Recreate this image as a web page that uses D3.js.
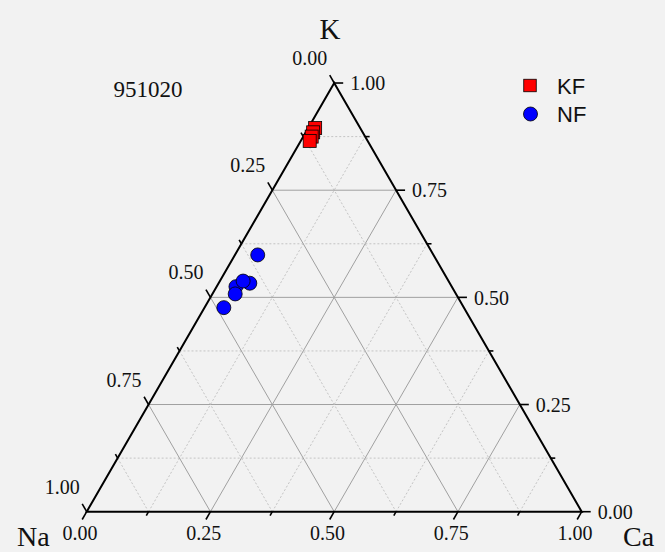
<!DOCTYPE html>
<html><head><meta charset="utf-8">
<script src="https://cdn.jsdelivr.net/npm/d3@7"></script>
<style>html,body{margin:0;padding:0;background:#f2f2f2;}svg{display:block;}</style>
</head><body>
<svg id="chart" width="665" height="552"></svg>
<script>
// ---- data ----
const axisNames = ["Na", "Ca", "K"];
const chartTitle = "951020";
const seriesNames = ["KF", "NF"];
const tickValues = [0, 0.25, 0.5, 0.75, 1];
const tickLabels = ["0.00", "0.25", "0.50", "0.75", "1.00"];
const gridValues = [0.125, 0.25, 0.375, 0.5, 0.625, 0.75, 0.875];
// KF (squares): K and Ca fractions (Na = 1 - K - Ca)
const kfK  = [0.895, 0.885, 0.875, 0.865];
const kfCa = [0.014, 0.015, 0.017, 0.018];
// NF (circles)
const nfK  = [0.599, 0.533, 0.525, 0.538, 0.508, 0.476];
const nfCa = [0.046, 0.063, 0.039, 0.047, 0.046, 0.039];

// ---- layout ----
const svg = d3.select("#chart");
svg.append("rect").attr("width",665).attr("height",552).attr("fill","#f2f2f2");
const xL = 86.7, xR = 581.7, yB = 511.7, side = xR - xL, yT = yB - side*Math.sqrt(3)/2;
const xScale = d3.scaleLinear().domain([0,1]).range([xL, xR]);
const yScale = d3.scaleLinear().domain([0,1]).range([yB, yT]);
// position from (Ca, K)
const px = (ca, k) => xScale(ca + k/2);
const py = (k) => yScale(k);
const serif = "'Liberation Serif','Times New Roman',serif";
const sans = "'Liberation Sans',Arial,sans-serif";

// ---- grid ----
const g = svg.append("g");
gridValues.forEach(v => {
  const major = Math.abs(v*4 - Math.round(v*4)) < 1e-9;
  const st = major ? {c:"#a0a0a0", d:null, w:1} : {c:"#c4c4c4", d:"2,2", w:1};
  const lines = [
    [[0, v], [1 - v, v]],               // K = v
    [[v, 0], [v, 1 - v]],               // Ca = v
    [[0, 1 - v], [1 - v, 0]]            // Na = v
  ];
  lines.forEach(([a, b]) => {
    g.append("line")
      .attr("x1", px(a[0], a[1])).attr("y1", py(a[1]))
      .attr("x2", px(b[0], b[1])).attr("y2", py(b[1]))
      .attr("stroke", st.c).attr("stroke-width", st.w)
      .attr("stroke-dasharray", st.d);
  });
});

// ---- ticks ----
const tickG = svg.append("g").attr("stroke","#000").attr("stroke-width",1.6);
const allTicks = [0].concat(gridValues).concat([1]);
const s3 = Math.sqrt(3)/2;
allTicks.forEach(v => {
  const major = Math.abs(v*4 - Math.round(v*4)) < 1e-9;
  const L = major ? 9 : 4.5;
  let x = px(0, 1 - v), y = py(1 - v);
  tickG.append("line").attr("x1",x).attr("y1",y).attr("x2",x - 0.5*L).attr("y2",y - s3*L);
  x = px(1 - v, v); y = py(v);
  tickG.append("line").attr("x1",x).attr("y1",y).attr("x2",x + L).attr("y2",y);
  x = px(v, 0); y = py(0);
  tickG.append("line").attr("x1",x).attr("y1",y).attr("x2",x - 0.5*L).attr("y2",y + s3*L);
});

// ---- triangle ----
svg.append("path")
  .attr("d", d3.line()([[px(0,0),py(0)],[px(1,0),py(0)],[px(0,1),py(1)]]) + "Z")
  .attr("fill","none").attr("stroke","#000").attr("stroke-width",2)
  .attr("stroke-linejoin","miter");

// ---- tick labels ----
const lab = svg.append("g").attr("font-family", serif).attr("font-size", 20).attr("fill","#111");
tickValues.forEach((v, i) => {
  lab.append("text").attr("x", px(0, 1 - v) - 24.5).attr("y", py(1 - v) - 24.7 + 6.8)
    .attr("text-anchor","middle").text(tickLabels[i]);
  lab.append("text").attr("x", px(1 - v, v) + 16).attr("y", py(v) + 0.5 + 6.8)
    .attr("text-anchor","start").text(tickLabels[i]);
  lab.append("text").attr("x", px(v, 0) - 6.8).attr("y", py(0) + 21.7 + 6.8)
    .attr("text-anchor","middle").text(tickLabels[i]);
});

// ---- axis titles ----
const tt = svg.append("g").attr("font-family", serif).attr("fill","#111");
tt.append("text").attr("x", 330).attr("y", 38.5).attr("font-size", 29).attr("text-anchor","middle").text(axisNames[2]);
tt.append("text").attr("x", 17).attr("y", 545.5).attr("font-size", 28).attr("text-anchor","start").text(axisNames[0]);
tt.append("text").attr("x", 623).attr("y", 545.5).attr("font-size", 28).attr("text-anchor","start").text(axisNames[1]);

svg.append("text").attr("x", 148).attr("y", 97).attr("text-anchor","middle")
  .attr("font-family", serif).attr("font-size", 23).attr("fill","#111").text(chartTitle);

// ---- data points ----
const kfData = kfK.map((k, i) => ({k, ca: kfCa[i]}));
const nfData = nfK.map((k, i) => ({k, ca: nfCa[i]}));
const sq = 13;
svg.append("g").selectAll("rect").data(kfData).join("rect")
  .attr("x", d => px(d.ca, d.k) - sq/2).attr("y", d => py(d.k) - sq/2)
  .attr("width", sq).attr("height", sq)
  .attr("fill","#ff0000").attr("stroke","#000").attr("stroke-width",0.8);
svg.append("g").selectAll("circle").data(nfData).join("circle")
  .attr("cx", d => px(d.ca, d.k)).attr("cy", d => py(d.k)).attr("r", 7)
  .attr("fill","#0000ff").attr("stroke","#000").attr("stroke-width",0.8);

// ---- legend ----
const lg = svg.append("g");
lg.append("rect").attr("x", 530 - 6.25).attr("y", 85.5 - 6.25).attr("width",12.5).attr("height",12.5)
  .attr("fill","#ff0000").attr("stroke","#000").attr("stroke-width",0.8);
lg.append("circle").attr("cx",530.5).attr("cy",114).attr("r",7)
  .attr("fill","#0000ff").attr("stroke","#000").attr("stroke-width",0.8);
lg.append("text").attr("x",557).attr("y",93.5).attr("font-family",sans).attr("font-size",22).attr("fill","#111").text(seriesNames[0]);
lg.append("text").attr("x",557).attr("y",122).attr("font-family",sans).attr("font-size",22).attr("fill","#111").text(seriesNames[1]);
</script>
</body></html>
